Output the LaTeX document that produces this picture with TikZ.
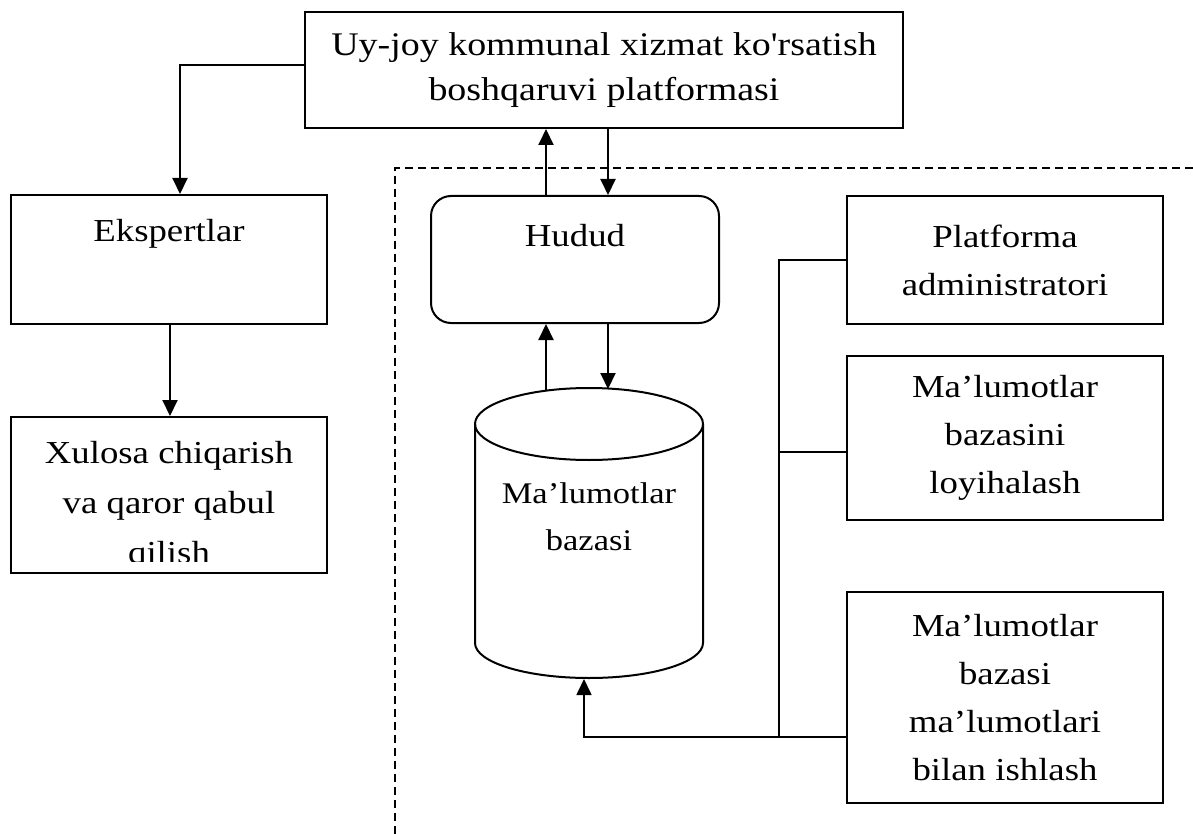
\documentclass[tikz,border=0pt]{standalone}
\usepackage{fontspec}
\setmainfont{Liberation Serif}[FakeStretch=1.15]
\newfontfamily\plainfont{Liberation Serif}[FakeStretch=1.15]
\usetikzlibrary{arrows.meta,calc}
\begin{document}
\begin{tikzpicture}[x=1pt,y=-1pt,
  box/.style={draw, line width=2pt, rectangle, inner sep=0pt, align=center},
  txt/.style={font=\fontsize{32}{48}\selectfont, align=center, inner sep=0pt},
  conn/.style={line width=1.7pt},
  arr/.style={line width=2pt, -{Triangle[width=15pt,length=16pt]}},
  dashline/.style={line width=1.4pt, dash pattern=on 8pt off 5pt},
]
\useasboundingbox (0,0) rectangle (1193,834);

% top platform box
\node[box, font=\fontsize{33}{45}\selectfont, minimum width=598pt, minimum height=116pt] (top) at (604,70)
  {Uy-joy kommunal xizmat ko{\plainfont'}rsatish\\boshqaruvi platformasi};

% left column
\node[box, minimum width=316pt, minimum height=129pt] (eks) at (169,259.5) {};
\node[txt, anchor=base] (ekst) at (169,242) {Ekspertlar};

\begin{scope}
  \clip (12,418) rectangle (326,561);
  \node[txt, anchor=base] (xul1) at (169,463) {Xulosa chiqarish};
  \node[txt, anchor=base] (xul2) at (169,513) {va qaror qabul};
  \node[txt, anchor=base] (xul3) at (169,563) {qilish};
\end{scope}
\node[box, minimum width=316pt, minimum height=156pt] (xul) at (169,495) {};

% dashed boundary
\coordinate (dR) at (1193,168);
\coordinate (dC) at (395,168);
\coordinate (dB) at (395,834);
\draw[dashline] (dR) -- (dC) -- (dB);

% Hudud
\node[box, rounded corners=20pt, minimum width=288pt, minimum height=127pt] (hud) at (575,259.5) {};
\node[txt, anchor=base] (hudt) at (575,247) {Hudud};

% database cylinder
\draw[line width=2pt] (475,424) -- (475,643)
  arc[start angle=180, end angle=360, x radius=114pt, y radius=35pt] -- (703,424);
\draw[line width=2pt] (589,424) ellipse [x radius=114pt, y radius=36pt];
\node[txt, font=\fontsize{30}{47}\selectfont, anchor=base] (db) at (589,503) {Ma’lumotlar};
\node[txt, font=\fontsize{30}{47}\selectfont, anchor=base] (db2) at (589,550) {bazasi};
\coordinate (dbTL) at (546,391);
\coordinate (dbTR) at (608,389);
\coordinate (dbB) at (584,679);

% right boxes
\node[box, txt, minimum width=316pt, minimum height=128pt] (plat) at (1005,260)
  {Platforma\\administratori};
\node[box, txt, minimum width=316pt, minimum height=164pt] (load) at (1005,438)
  {Ma’lumotlar\\bazasini\\loyihalash};
\node[box, txt, minimum width=316pt, minimum height=211pt] (work) at (1005,697.5)
  {Ma’lumotlar\\bazasi\\ma’lumotlari\\bilan ishlash};

% connectors
\coordinate (c1) at (180,65);
\coordinate (c2) at (170,0);
\coordinate (u1) at (546,0);
\coordinate (u2) at (608,0);
\coordinate (b1) at (779,260);
\coordinate (b2) at (779,452);
\coordinate (b3) at (779,737);

\draw[arr] (top.west |- c1) -| (eks.north -| c1);
\draw[arr] (eks.south -| c2) -- (xul.north -| c2);
\draw[arr] (hud.north -| u1) -- (top.south -| u1);
\draw[arr] (top.south -| u2) -- (hud.north -| u2);
\draw[arr] (dbTL) -- (hud.south -| dbTL);
\draw[arr] (hud.south -| dbTR) -- (dbTR);
\draw[conn] (plat.west |- b1) -- (b1) -- (b3);
\draw[conn] (b2) -- (load.west |- b2);
\draw[arr, line width=1.7pt] (work.west |- b3) -- (dbB |- b3) -- (dbB);
\end{tikzpicture}
\end{document}
